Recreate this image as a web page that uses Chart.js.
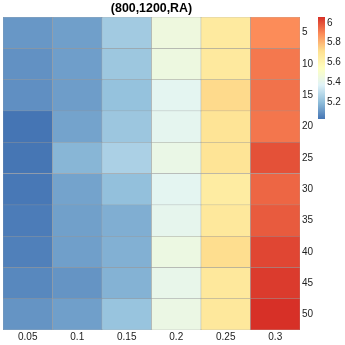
<!DOCTYPE html>
<html lang="en">
<head>
  <meta charset="UTF-8">
  <title>(800,1200,RA)</title>
  <script src="https://cdn.jsdelivr.net/npm/chart.js"></script>
  <style>
    body { margin: 0; background: #fff; }
    #wrap { width: 345px; height: 345px; position: relative; }
  </style>
</head>
<body>
  <div id="wrap"><canvas id="heat"></canvas></div>

  <script>
    const chartTitle = '(800,1200,RA)';
    const cols = ['0.05', '0.1', '0.15', '0.2', '0.25', '0.3'];
    const rows = [5, 10, 15, 20, 25, 30, 35, 40, 45, 50];
    // one array per row, values for columns 0.05 .. 0.3
    const values = [
      [5.109, 5.127, 5.239, 5.451, 5.661, 5.890],
      [5.096, 5.125, 5.228, 5.445, 5.667, 5.927],
      [5.091, 5.123, 5.211, 5.395, 5.729, 5.938],
      [5.030, 5.136, 5.226, 5.401, 5.695, 5.930],
      [5.032, 5.181, 5.259, 5.428, 5.695, 6.000],
      [5.037, 5.136, 5.206, 5.395, 5.650, 5.960],
      [5.046, 5.129, 5.163, 5.406, 5.672, 5.980],
      [5.055, 5.127, 5.168, 5.439, 5.720, 6.020],
      [5.073, 5.102, 5.172, 5.417, 5.672, 6.040],
      [5.102, 5.127, 5.217, 5.434, 5.672, 6.060]
    ];
    const legendTicks = [5.2, 5.4, 5.6, 5.8, 6];
    // reversed RdYlBu (7)
    const palette = ['#4575B4', '#91BFDB', '#E0F3F8', '#FFFFBF', '#FEE090', '#FC8D59', '#D73027'];

    const flat = values.flat();
    const cmin = Math.min(...flat), cmax = Math.max(...flat);

    const hex = h => [1, 3, 5].map(i => parseInt(h.slice(i, i + 2), 16));
    const rgbPal = palette.map(hex);
    function colorFor(v) {
      const t = Math.max(0, Math.min(1, (v - cmin) / (cmax - cmin))) * (palette.length - 1);
      const i = Math.min(Math.floor(t), palette.length - 2), f = t - i;
      const a = rgbPal[i], b = rgbPal[i + 1];
      const c = a.map((x, k) => Math.round(x + (b[k] - x) * f));
      return `rgb(${c[0]},${c[1]},${c[2]})`;
    }

    const font = '"Liberation Sans", Arial, sans-serif';

    const titleAndScale = {
      id: 'titleAndScale',
      afterDraw(chart) {
        const { ctx, chartArea } = chart;
        ctx.save();
        ctx.fillStyle = '#000';
        ctx.font = `bold 12.4px ${font}`;
        ctx.textAlign = 'center';
        ctx.textBaseline = 'middle';
        ctx.fillText(chartTitle, (chartArea.left + chartArea.right) / 2, 8.5);

        // colour key
        const x = chartArea.right + 18, w = 7, top = chartArea.top, h = 102;
        const yOf = v => top + h * (cmax - v) / (cmax - cmin);
        const g = ctx.createLinearGradient(0, top + h, 0, top);
        palette.forEach((c, i) => g.addColorStop(i / (palette.length - 1), c));
        ctx.fillStyle = g;
        ctx.fillRect(x, top, w, h);
        ctx.fillStyle = '#222';
        ctx.font = `10px ${font}`;
        ctx.textAlign = 'left';
        legendTicks.forEach(t => ctx.fillText(String(t), x + w + 2, yOf(t)));
        ctx.restore();
      }
    };

    new Chart(document.getElementById('heat').getContext('2d'), {
      type: 'bar',
      data: {
        labels: cols,
        datasets: rows.map((r, i) => ({
          label: String(r),
          data: cols.map(() => [i, i + 1]),
          backgroundColor: values[i].map(colorFor),
          borderColor: '#999999',
          borderWidth: 0.5,
          borderSkipped: false,
          barPercentage: 1,
          categoryPercentage: 1,
          grouped: false
        }))
      },
      options: {
        responsive: true,
        maintainAspectRatio: false,
        animation: false,
        layout: { padding: { top: 17, left: 3, right: 30, bottom: 0 } },
        scales: {
          x: {
            grid: { display: false, drawTicks: false },
            border: { display: false },
            ticks: { color: '#222', font: { size: 10, family: font }, padding: 1, maxRotation: 0 },
            afterFit: s => { s.height = 15; }
          },
          y: {
            type: 'linear',
            position: 'right',
            min: 0,
            max: 10,
            reverse: true,
            grid: { display: false, drawTicks: false },
            border: { display: false },
            afterBuildTicks: s => { s.ticks = rows.map((r, i) => ({ value: i + 0.5 })); },
            ticks: {
              autoSkip: false,
              color: '#222',
              font: { size: 10, family: font },
              padding: 2,
              callback: v => rows[Math.floor(v)]
            },
            afterFit: s => { s.width = 15; }
          }
        },
        plugins: {
          legend: { display: false },
          tooltip: { enabled: false },
          title: { display: false }
        }
      },
      plugins: [titleAndScale]
    });
  </script>
</body>
</html>
